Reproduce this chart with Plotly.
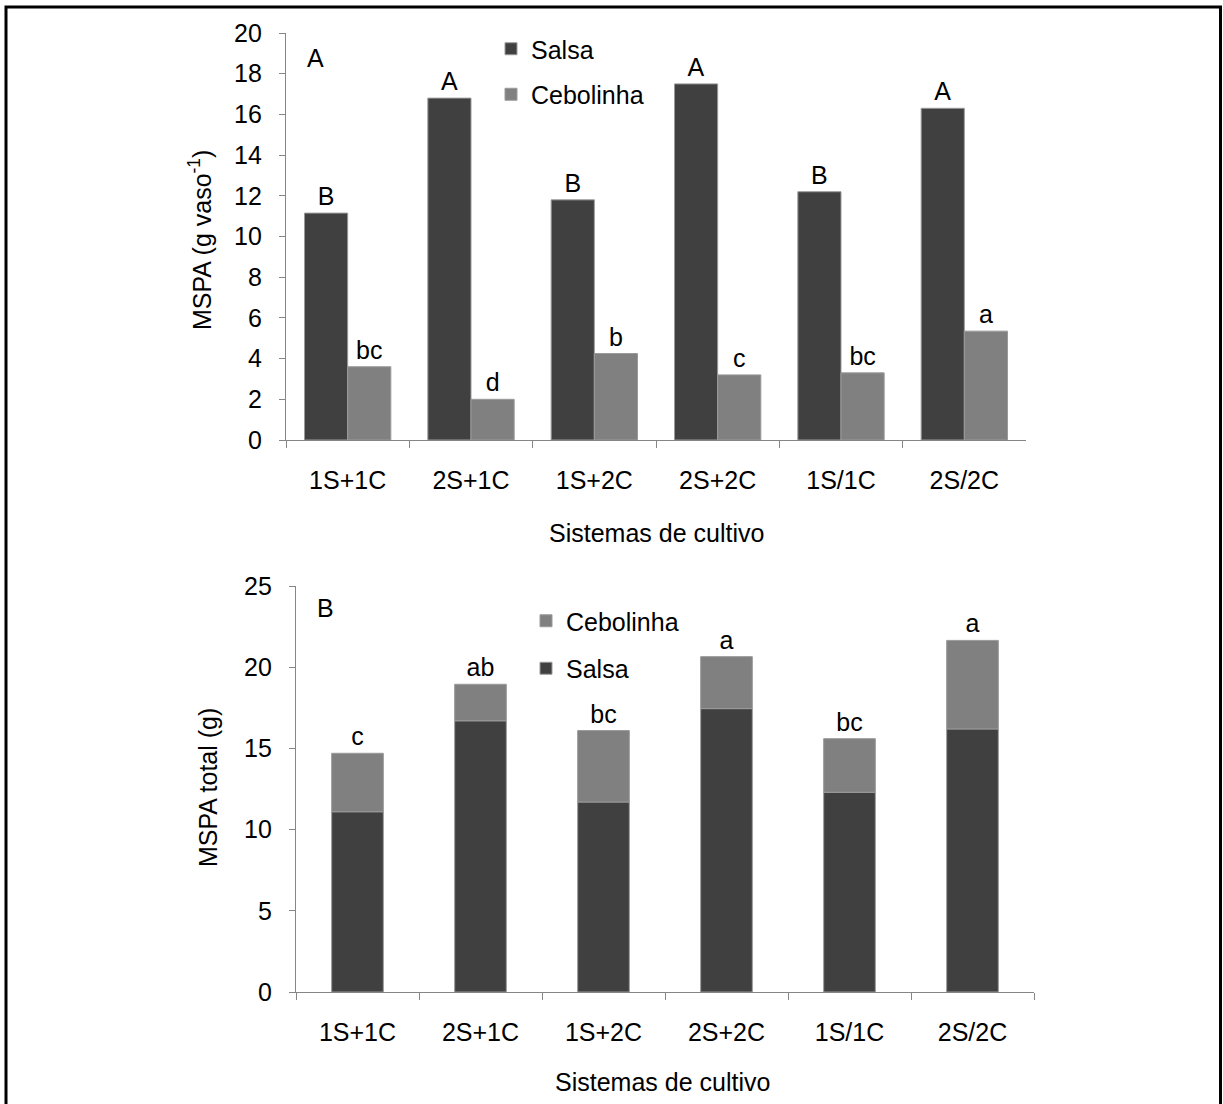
import plotly.graph_objects as go

W, H = 1223, 1104

categories = ["1S+1C", "2S+1C", "1S+2C", "2S+2C", "1S/1C", "2S/2C"]

# Panel A: MSPA per pot
salsa_a = [11.15, 16.8, 11.8, 17.5, 12.2, 16.3]
cebolinha_a = [3.6, 2.0, 4.25, 3.2, 3.3, 5.35]
letters_salsa_a = ["B", "A", "B", "A", "B", "A"]
letters_ceb_a = ["bc", "d", "b", "c", "bc", "a"]

# Panel B: total MSPA (stacked)
salsa_b = [11.1, 16.7, 11.7, 17.45, 12.3, 16.2]
cebolinha_b = [3.6, 2.25, 4.4, 3.2, 3.3, 5.45]
letters_total_b = ["c", "ab", "bc", "a", "bc", "a"]

DARK = "#404040"
GREY = "#808080"
AXC = "#868686"
FONT = "Liberation Sans, Arial, sans-serif"
FS = 25


def px_x(p):
    return p / W


def px_y(p):
    return 1 - p / H


fig = go.Figure()

common_bar = dict(marker_line=dict(color="#9a9a9a", width=1), cliponaxis=False,
                  textposition="outside", constraintext="none",
                  textfont=dict(family=FONT, size=FS, color="black"))

fig.add_trace(go.Bar(x=categories, y=salsa_a, name="Salsa", marker_color=DARK,
                     text=letters_salsa_a, xaxis="x", yaxis="y", legend="legend",
                     legendgroup="s1", legendrank=1, **common_bar))
fig.add_trace(go.Bar(x=categories, y=cebolinha_a, name="Cebolinha", marker_color=GREY,
                     text=letters_ceb_a, xaxis="x", yaxis="y", legend="legend",
                     legendgroup="c1", legendrank=2, **common_bar))

fig.add_trace(go.Bar(x=categories, y=salsa_b, name="Salsa", marker_color=DARK,
                     xaxis="x2", yaxis="y2", legend="legend2", legendgroup="s2",
                     legendrank=4, offsetgroup="b", width=0.42,
                     marker_line=dict(color="#9a9a9a", width=1), cliponaxis=False))
fig.add_trace(go.Bar(x=categories, y=cebolinha_b, name="Cebolinha", marker_color=GREY,
                     text=letters_total_b, xaxis="x2", yaxis="y2", legend="legend2",
                     legendgroup="c2", legendrank=3, offsetgroup="b", base=salsa_b,
                     width=0.42, **common_bar))

axis_common = dict(showline=True, linecolor=AXC, linewidth=1.3, ticks="outside",
                   tickcolor=AXC, tickwidth=1.3, showgrid=False, zeroline=False,
                   automargin=False, tickfont=dict(family=FONT, size=FS, color="black"))

fig.update_layout(
    width=W, height=H,
    margin=dict(l=0, r=0, t=0, b=0),
    paper_bgcolor="white", plot_bgcolor="white",
    template="none",
    barmode="group",
    bargap=0.3, bargroupgap=0,
    font=dict(family=FONT, size=FS, color="black"),
    xaxis=dict(domain=[px_x(286), px_x(1026)], anchor="y", type="category",
               tickson="boundaries", ticklen=7, ticklabelstandoff=18, **axis_common),
    yaxis=dict(domain=[px_y(440), px_y(33)], anchor="x", range=[0, 20], dtick=2,
               ticklen=6, ticklabelstandoff=12, **axis_common),
    xaxis2=dict(domain=[px_x(296), px_x(1034)], anchor="y2", type="category",
                tickson="boundaries", ticklen=7, ticklabelstandoff=18, **axis_common),
    yaxis2=dict(domain=[px_y(992), px_y(586)], anchor="x2", range=[0, 25], dtick=5,
                ticklen=6, ticklabelstandoff=12, **axis_common),
    legend=dict(x=px_x(491), y=px_y(26), xanchor="left", yanchor="top",
                traceorder="grouped", tracegroupgap=10, bgcolor="rgba(0,0,0,0)",
                font=dict(family=FONT, size=FS, color="black")),
    legend2=dict(x=px_x(526), y=px_y(598), xanchor="left", yanchor="top",
                 traceorder="grouped", tracegroupgap=12, bgcolor="rgba(0,0,0,0)",
                 font=dict(family=FONT, size=FS, color="black")),
)


def ann(text, x, y, angle=0):
    return dict(text=text, x=px_x(x), y=px_y(y), xref="paper", yref="paper",
                xanchor="center", yanchor="middle", showarrow=False,
                textangle=angle, font=dict(family=FONT, size=FS, color="black"))


annotations = [
    ann("A", 315, 58),
    ann("B", 325, 608),
    ann("Sistemas de cultivo", 656, 533),
    ann("Sistemas de cultivo", 663, 1082),
    ann("MSPA (g vaso<sup>-1</sup>)", 200, 240, -90),
    ann("MSPA total (g)", 208, 788, -90),
]
fig.update_layout(annotations=annotations)

# outer frame
fig.add_shape(type="rect", xref="paper", yref="paper",
              x0=px_x(6), x1=px_x(1220.5), y0=-0.05, y1=px_y(7),
              line=dict(color="black", width=3), fillcolor="rgba(0,0,0,0)", layer="above")

fig.write_html("out.html")
